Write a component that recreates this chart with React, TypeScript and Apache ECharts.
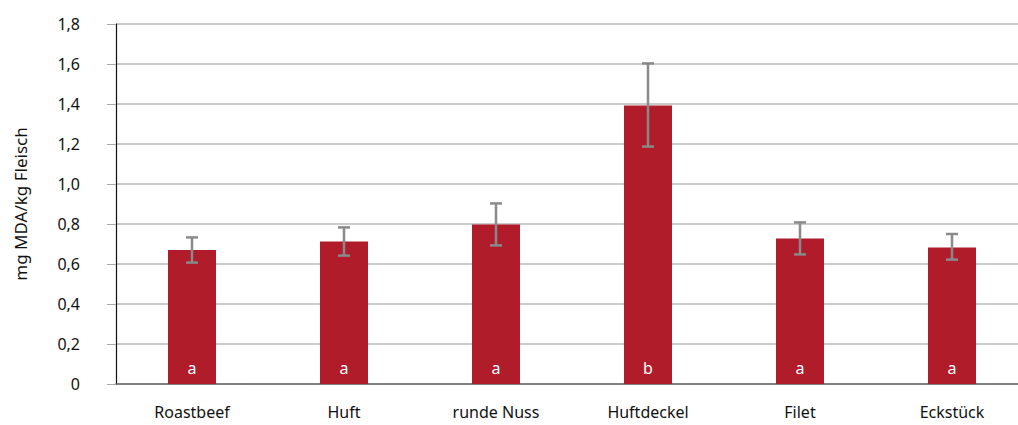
import React, { useEffect, useRef } from "react";
import * as echarts from "echarts";

const categories = ["Roastbeef", "Huft", "runde Nuss", "Huftdeckel", "Filet", "Eckstück"];
const values = [0.67, 0.712, 0.798, 1.392, 0.728, 0.683];
const errLow = [0.607, 0.642, 0.693, 1.187, 0.648, 0.622];
const errHigh = [0.733, 0.783, 0.903, 1.603, 0.808, 0.75];
const letters = ["a", "a", "a", "b", "a", "a"];
const yAxisName = "mg MDA/kg Fleisch";

const FONT = "Noto Sans";

export default function App() {
  const ref = useRef<HTMLDivElement>(null);
  useEffect(() => {
    document.body.style.margin = "0";
    const chart = echarts.init(ref.current!, null, { renderer: "svg" });
    chart.setOption({
      animation: false,
      grid: { left: 116, top: 24, height: 360, width: 912, containLabel: false },
      xAxis: {
        type: "category",
        data: categories,
        axisLine: { show: true, lineStyle: { color: "#666", width: 1.5 } },
        axisTick: { show: false },
        axisLabel: { color: "#111", fontSize: 16, fontFamily: FONT, margin: 20 },
      },
      yAxis: {
        type: "value",
        min: 0,
        max: 1.8,
        interval: 0.2,
        name: yAxisName,
        nameLocation: "middle",
        nameGap: 87,
        nameTextStyle: { color: "#111", fontSize: 17, fontFamily: FONT },
        axisLine: { show: true, lineStyle: { color: "#111", width: 1.2 } },
        axisTick: { show: true, length: 9, lineStyle: { color: "#aaa" } },
        splitLine: { lineStyle: { color: "#b8b8b8", width: 1.5 } },
        axisLabel: {
          color: "#111",
          fontSize: 16,
          fontFamily: FONT,
          margin: 36,
          formatter: (v: number) => (v === 0 ? "0" : v.toFixed(1).replace(".", ",")),
        },
      },
      series: [
        {
          type: "bar",
          data: values,
          barWidth: 48,
          itemStyle: { color: "#B01C2A" },
          label: {
            show: true,
            position: "insideBottom",
            distance: 8,
            color: "#fff",
            fontSize: 16,
            fontFamily: FONT,
            formatter: (p: any) => letters[p.dataIndex],
          },
        },
        {
          type: "custom",
          data: categories.map((_, i) => [i, errLow[i], errHigh[i]]),
          renderItem: (params: any, api: any) => {
            const x = api.value(0);
            const lo = api.coord([x, api.value(1)]);
            const hi = api.coord([x, api.value(2)]);
            const hw = 6;
            const style = { stroke: "#8a8a8a", lineWidth: 2.5 };
            return {
              type: "group",
              children: [
                { type: "line", shape: { x1: lo[0], y1: lo[1], x2: hi[0], y2: hi[1] }, style },
                { type: "line", shape: { x1: hi[0] - hw, y1: hi[1], x2: hi[0] + hw, y2: hi[1] }, style },
                { type: "line", shape: { x1: lo[0] - hw, y1: lo[1], x2: lo[0] + hw, y2: lo[1] }, style },
              ],
            };
          },
          z: 10,
        },
      ],
    });
    return () => chart.dispose();
  }, []);
  return (
    <div style={{ width: 1018, height: 425, overflow: "hidden" }}>
      <div ref={ref} style={{ width: 1040, height: 425 }} />
    </div>
  );
}
